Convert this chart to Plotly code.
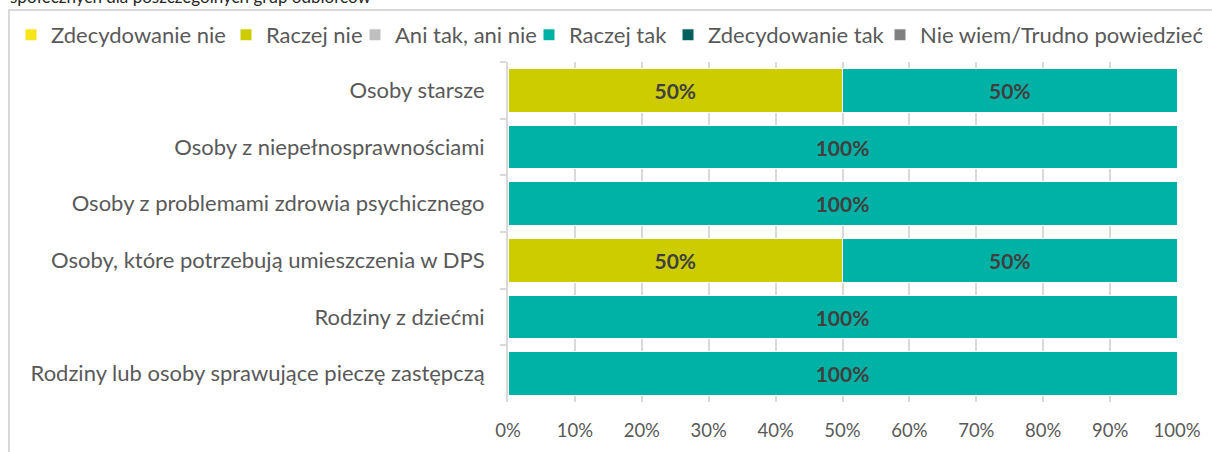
import plotly.graph_objects as go

# Survey answers per target group (share of responses, %)
categories = [
    "Osoby starsze",
    "Osoby z niepełnosprawnościami",
    "Osoby z problemami zdrowia psychicznego",
    "Osoby, które potrzebują umieszczenia w DPS",
    "Rodziny z dziećmi",
    "Rodziny lub osoby sprawujące pieczę zastępczą",
]

zdecydowanie_nie = [0, 0, 0, 0, 0, 0]
raczej_nie = [50, 0, 0, 50, 0, 0]
ani_tak_ani_nie = [0, 0, 0, 0, 0, 0]
raczej_tak = [50, 100, 100, 50, 100, 100]
zdecydowanie_tak = [0, 0, 0, 0, 0, 0]
nie_wiem = [0, 0, 0, 0, 0, 0]

series_names = [
    "Zdecydowanie nie",
    "Raczej nie",
    "Ani tak, ani nie",
    "Raczej tak",
    "Zdecydowanie tak",
    "Nie wiem/Trudno powiedzieć",
]
series_values = [zdecydowanie_nie, raczej_nie, ani_tak_ani_nie,
                 raczej_tak, zdecydowanie_tak, nie_wiem]
series_colors = ["#F7E51B", "#CCCC00", "#BFBFBF", "#00B2A5", "#00605E", "#808080"]

x_ticks = [0, 10, 20, 30, 40, 50, 60, 70, 80, 90, 100]

title_line = "społecznych dla poszczególnych grup odbiorców"

FONT = "Lato"
W, H = 1212, 452
L, R, T, B = 508, 35, 62, 50
PW, PH = W - L - R, H - T - B

# legend entry positions (left edge in px), one legend per series
legend_left_px = [11, 226, 355, 529, 668, 880]
legend_y_px = 35


def px_to_paper_x(px):
    return (px - L) / PW


def px_to_paper_y(py):
    return (H - B - py) / PH


fig = go.Figure()
legend_ids = ["legend"] + [f"legend{i}" for i in range(2, 7)]

for name, vals, color, lid in zip(series_names, series_values, series_colors, legend_ids):
    fig.add_trace(go.Bar(
        y=categories,
        x=vals,
        name=name,
        orientation="h",
        marker=dict(color=color, line=dict(color="white", width=1)),
        text=[f"{v}%" if v else "" for v in vals],
        textposition="inside",
        insidetextanchor="middle",
        textangle=0,
        constraintext="none",
        textfont=dict(family=FONT, size=21, color="#404040", weight="bold"),
        legend=lid,
        hoverinfo="skip",
    ))

layout_legends = {}
for lid, lx in zip(legend_ids, legend_left_px):
    layout_legends[lid] = dict(
        orientation="h",
        xref="container", yref="container",
        x=lx / W, y=1 - legend_y_px / H,
        xanchor="left", yanchor="middle",
        font=dict(family=FONT, size=22, color="#595959"),
        bgcolor="rgba(0,0,0,0)",
        itemclick=False, itemdoubleclick=False,
    )

fig.update_layout(
    width=W, height=H,
    margin=dict(l=L, r=R, t=T, b=B, pad=0, autoexpand=False),
    paper_bgcolor="white",
    plot_bgcolor="white",
    barmode="stack",
    bargap=0.224,
    showlegend=True,
    font=dict(family=FONT, color="#595959"),
    **layout_legends,
)

fig.update_xaxes(
    range=[0, 100],
    tickvals=x_ticks,
    ticktext=[f"{t}%" for t in x_ticks],
    showgrid=True, gridcolor="#D9D9D9", gridwidth=2,
    zeroline=False, showline=False,
    ticks="outside", ticklen=12, tickcolor="rgba(0,0,0,0)",
    tickfont=dict(family=FONT, size=18.5, color="#595959"),
    fixedrange=True,
)

fig.update_yaxes(
    categoryorder="array", categoryarray=categories,
    autorange="reversed",
    showline=True, linecolor="#D9D9D9", linewidth=2,
    ticks="outside", tickson="boundaries", ticklen=6,
    tickcolor="#D9D9D9", tickwidth=2,
    ticklabelstandoff=17,
    tickfont=dict(family=FONT, size=22, color="#595959"),
    showgrid=False, zeroline=False,
    fixedrange=True,
)

# chart frame (continues past the right and bottom edges)
fig.add_shape(
    type="rect", xref="paper", yref="paper",
    x0=px_to_paper_x(9), x1=px_to_paper_x(W + 20),
    y0=px_to_paper_y(H + 20), y1=px_to_paper_y(10),
    line=dict(color="#D9D9D9", width=2),
    fillcolor="rgba(0,0,0,0)", layer="below",
)

# last line of the caption above the frame
fig.add_annotation(
    text=title_line, xref="paper", yref="paper",
    x=px_to_paper_x(8), y=px_to_paper_y(9),
    xanchor="left", yanchor="bottom", showarrow=False,
    font=dict(family=FONT, size=17, color="#262626"),
)

fig.write_html("out.html")
